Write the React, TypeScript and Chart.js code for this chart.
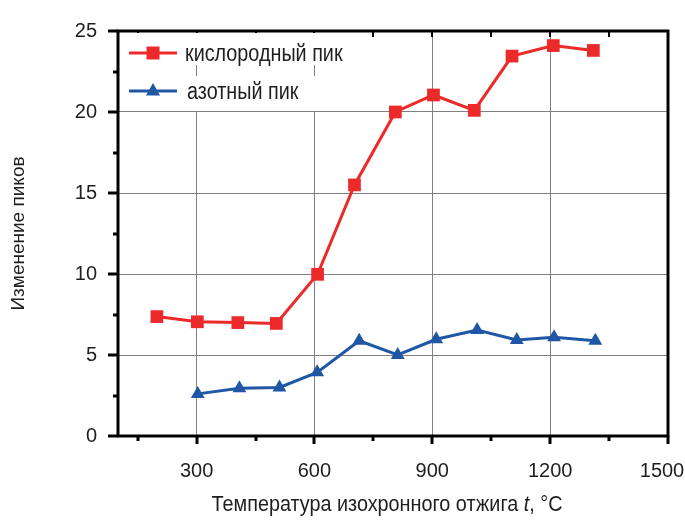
import React, { useEffect, useRef } from "react";
import { Chart, registerables } from "chart.js";

Chart.register(...registerables);

// ---- data ----
const oxygenTemp = [199, 302, 405, 503, 608, 702, 806, 903, 1007, 1103, 1208, 1310];
const oxygenPeak = [7.37, 7.05, 7.0, 6.95, 9.98, 15.5, 20.0, 21.05, 20.1, 23.45, 24.1, 23.8];
const nitrogenTemp = [303, 409, 511, 607, 714, 812, 910, 1014, 1115, 1210, 1315];
const nitrogenPeak = [2.6, 2.94, 3.0, 3.93, 5.88, 5.0, 5.97, 6.54, 5.93, 6.1, 5.88];

const xTickValues = [150, 300, 450, 600, 750, 900, 1050, 1200, 1350, 1500];
const xTickLabels = [300, 600, 900, 1200, 1500];
const xGridValues = [300, 600, 900, 1200];
const yTickValues = [0, 2.5, 5, 7.5, 10, 12.5, 15, 17.5, 20, 22.5, 25];
const yTickLabels = [0, 5, 10, 15, 20, 25];
const yGridValues = [5, 10, 15, 20];

const seriesNames = ["кислородный пик", "азотный пик"];
const xTitleParts = ["Температура изохронного отжига ", "t", ", °C"];
const yTitle = "Изменение пиков";

const FONT = "'Liberation Sans', Arial, sans-serif";
const RED = "rgb(236, 42, 42)";
const BLUE = "rgb(31, 86, 166)";
const TEXT = "#1e1e1e";
const GRID = "#808080";

function condensed(ctx: CanvasRenderingContext2D, text: string, x: number, y: number, sx: number) {
  ctx.save();
  ctx.translate(x, y);
  ctx.scale(sx, 1);
  ctx.fillText(text, 0, 0);
  ctx.restore();
}

const framePlugin = {
  id: "frameAndTicks",
  beforeDraw(chart: any) {
    const xs = chart.scales.x;
    const items = xs.getLabelItems(chart.chartArea);
    for (const it of items) {
      if (String(it.label) === "1500" && !it._shifted) {
        it.options.translation[0] -= 6;
        it._shifted = true;
      }
    }
  },
  afterDatasetsDraw(chart: any) {
    const ctx = chart.ctx;
    const { left, right, top, bottom } = chart.chartArea;
    const xs = chart.scales.x;
    const ys = chart.scales.y;
    ctx.save();
    ctx.strokeStyle = "#000";
    for (const v of xTickValues) {
      const px = Math.round(xs.getPixelForValue(v));
      const major = v % 300 === 0;
      ctx.lineWidth = 3;
      ctx.beginPath();
      ctx.moveTo(px, bottom);
      ctx.lineTo(px, bottom + (major ? 8 : 5));
      ctx.stroke();
      ctx.lineWidth = 2;
      ctx.beginPath();
      ctx.moveTo(px, top);
      ctx.lineTo(px, top + 6);
      ctx.stroke();
    }
    for (const v of yTickValues) {
      const py = Math.round(ys.getPixelForValue(v));
      const major = v % 5 === 0;
      ctx.lineWidth = 3;
      ctx.beginPath();
      ctx.moveTo(left - (major ? 10 : 5), py);
      ctx.lineTo(left, py);
      ctx.stroke();
    }
    ctx.lineWidth = 3;
    ctx.strokeRect(left, top, right - left, bottom - top);

    // legend
    ctx.fillStyle = "#fff";
    ctx.fillRect(left + 3, top + 2, 230, 32);
    ctx.fillRect(left + 3, top + 45, 230, 35);
    const rows = [
      { y: top + 22, color: RED, name: seriesNames[0], tx: 185, marker: "rect" },
      { y: top + 60, color: BLUE, name: seriesNames[1], tx: 187, marker: "tri" },
    ];
    for (const r of rows) {
      ctx.strokeStyle = r.color;
      ctx.fillStyle = r.color;
      ctx.lineWidth = 3;
      ctx.beginPath();
      ctx.moveTo(129, r.y);
      ctx.lineTo(177, r.y);
      ctx.stroke();
      if (r.marker === "rect") {
        ctx.fillRect(153 - 6.5, r.y - 6.5, 13, 13);
      } else {
        ctx.beginPath();
        ctx.moveTo(153, r.y - 8);
        ctx.lineTo(153 + 7, r.y + 4.5);
        ctx.lineTo(153 - 7, r.y + 4.5);
        ctx.closePath();
        ctx.fill();
      }
      ctx.fillStyle = TEXT;
      ctx.font = `23px ${FONT}`;
      ctx.textAlign = "left";
      ctx.textBaseline = "alphabetic";
      condensed(ctx, r.name, r.tx, r.y + 8, 0.86);
    }

    // x axis title with italic t
    ctx.fillStyle = TEXT;
    ctx.textBaseline = "alphabetic";
    ctx.textAlign = "left";
    const sx = 0.9;
    const normal = `22px ${FONT}`;
    const italic = `italic 22px ${FONT}`;
    ctx.font = normal;
    const w0 = ctx.measureText(xTitleParts[0]).width * sx;
    const w2 = ctx.measureText(xTitleParts[2]).width * sx;
    ctx.font = italic;
    const w1 = ctx.measureText(xTitleParts[1]).width * sx;
    const total = w0 + w1 + w2;
    let x = 387 - total / 2;
    const by = 511;
    ctx.font = normal;
    condensed(ctx, xTitleParts[0], x, by, sx);
    x += w0;
    ctx.font = italic;
    condensed(ctx, xTitleParts[1], x, by, sx);
    x += w1;
    ctx.font = normal;
    condensed(ctx, xTitleParts[2], x, by, sx);
    ctx.restore();
  },
};

export default function App() {
  const ref = useRef<HTMLCanvasElement | null>(null);
  useEffect(() => {
    if (!ref.current) return;
    const chart = new Chart(ref.current, {
      type: "line",
      data: {
        datasets: [
          {
            label: seriesNames[0],
            data: oxygenTemp.map((t, i) => ({ x: t, y: oxygenPeak[i] })),
            borderColor: RED,
            backgroundColor: RED,
            borderWidth: 3,
            pointStyle: "rect",
            pointRadius: 9,
            pointBorderWidth: 0,
            tension: 0,
          },
          {
            label: seriesNames[1],
            data: nitrogenTemp.map((t, i) => ({ x: t, y: nitrogenPeak[i] })),
            borderColor: BLUE,
            backgroundColor: BLUE,
            borderWidth: 3,
            pointStyle: "triangle",
            pointRadius: 8,
            pointBorderWidth: 0,
            tension: 0,
          },
        ],
      },
      options: {
        animation: false,
        responsive: false,
        devicePixelRatio: 1,
        layout: { padding: { left: 0, top: 31, right: 17, bottom: 0 } },
        plugins: { legend: { display: false }, tooltip: { enabled: false } },
        scales: {
          x: {
            type: "linear",
            min: 100,
            max: 1500,
            afterBuildTicks: (s: any) => {
              s.ticks = xTickValues.map((v) => ({ value: v }));
            },
            afterFit: (s: any) => {
              s.height = 85;
              s.paddingLeft = 0;
              s.paddingRight = 0;
            },
            grid: {
              drawTicks: false,
              lineWidth: 1,
              color: (c: any) => (xGridValues.includes(c.tick?.value) ? GRID : "rgba(0,0,0,0)"),
            },
            border: { display: false },
            ticks: {
              autoSkip: false,
              maxRotation: 0,
              padding: 23,
              color: TEXT,
              font: { family: FONT, size: 20 },
              callback: (v: any) => (xTickLabels.includes(Number(v)) ? String(v) : ""),
            },
          },
          y: {
            type: "linear",
            min: 0,
            max: 25,
            afterBuildTicks: (s: any) => {
              s.ticks = yTickValues.map((v) => ({ value: v }));
            },
            afterFit: (s: any) => {
              s.width = 118;
              s.paddingTop = 0;
              s.paddingBottom = 0;
            },
            grid: {
              drawTicks: false,
              lineWidth: 1,
              color: (c: any) => (yGridValues.includes(c.tick?.value) ? GRID : "rgba(0,0,0,0)"),
            },
            border: { display: false },
            ticks: {
              autoSkip: false,
              padding: 21,
              color: TEXT,
              font: { family: FONT, size: 20 },
              callback: (v: any) => (yTickLabels.includes(Number(v)) ? String(v) : ""),
            },
            title: {
              display: true,
              text: yTitle,
              color: TEXT,
              font: { family: FONT, size: 19 },
              padding: { top: 7, bottom: 0 },
            },
          },
        },
      },
      plugins: [framePlugin],
    });
    return () => chart.destroy();
  }, []);
  return (
    <div style={{ position: "fixed", left: 0, top: 0, width: 685, height: 521, background: "#fff" }}>
      <canvas ref={ref} width={685} height={521} style={{ width: 685, height: 521 }} />
    </div>
  );
}
